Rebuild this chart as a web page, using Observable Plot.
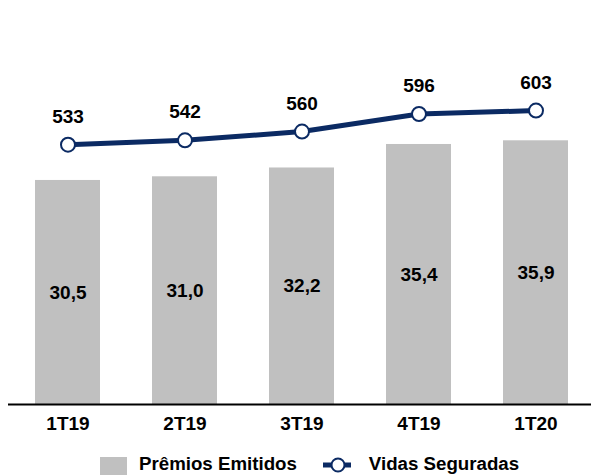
<!DOCTYPE html>
<html><head><meta charset="utf-8">
<script src="https://cdn.jsdelivr.net/npm/d3@7"></script>
<script src="https://cdn.jsdelivr.net/npm/@observablehq/plot@0.6"></script>
<style>
body{margin:0;background:#fff;font-family:"Liberation Sans",Arial,sans-serif;overflow:hidden;}
#legend{position:absolute;left:100px;top:454px;display:flex;align-items:flex-start;font-weight:bold;font-size:18.7px;line-height:19px;color:#000;white-space:nowrap;}
.sw{width:27px;height:27px;background:#c0c0c0;margin-right:12px;margin-top:3px;}
</style></head><body>
<div id="chart"></div>
<div id="legend">
  <div class="sw"></div><span>Prêmios Emitidos</span>
  <svg width="28" height="16" style="margin-left:26px;margin-right:18px;margin-top:3px"><line x1="0" y1="8" x2="28" y2="8" stroke="#0b2a63" stroke-width="5"/><circle cx="15" cy="8" r="6.5" fill="#fff" stroke="#0b2a63" stroke-width="2"/></svg><span>Vidas Seguradas</span>
</div>
<script>
const quarters = ["1T19","2T19","3T19","4T19","1T20"];
const premios = [30.5, 31.0, 32.2, 35.4, 35.9];
const vidas = [533, 542, 560, 596, 603];
const ratio = 15.07; // vidas per premios unit (secondary axis scaling)

const bars = quarters.map((q,i)=>({q, v: premios[i]}));
const pts = quarters.map((q,i)=>({q, v: vidas[i], y: vidas[i]/ratio}));
const fmt = d3.format(".1f");
const navy = "#0b2a63";
const fs = 19;

const plot = Plot.plot({
  width: 591, height: 440,
  marginTop: 0, marginBottom: 36, marginLeft: 8, marginRight: 0,
  style: {fontFamily: "'Liberation Sans', Arial, sans-serif", fontSize: fs + "px", fontWeight: "bold", color:"#000"},
  x: {domain: quarters, paddingInner: 0.444, paddingOuter: 0.2, align: 0.54, label: null},
  y: {domain: [0, 55.0], axis: null},
  marks: [
    Plot.barY(bars, {x: "q", y: "v", fill: "#c0c0c0"}),
    Plot.text(bars, {x: "q", y: d => d.v/2, text: d => fmt(d.v).replace(".", ","), fill: "#000", fontWeight: "bold", fontSize: fs}),
    Plot.ruleY([0], {stroke: "#000", strokeWidth: 2}),
    Plot.line(pts, {x: "q", y: "y", stroke: navy, strokeWidth: 5}),
    Plot.dot(pts, {x: "q", y: "y", r: 7, fill: "#fff", stroke: navy, strokeWidth: 2}),
    Plot.text(pts, {x: "q", y: "y", dy: -28, text: d => String(d.v), fill: "#000", fontWeight: "bold", fontSize: fs}),
    Plot.axisX({tickSize: 0, tickPadding: 12, fontSize: fs, fontWeight: "bold", label: null, fill: "#000"})
  ]
});
document.getElementById("chart").appendChild(plot);
</script>
</body></html>
